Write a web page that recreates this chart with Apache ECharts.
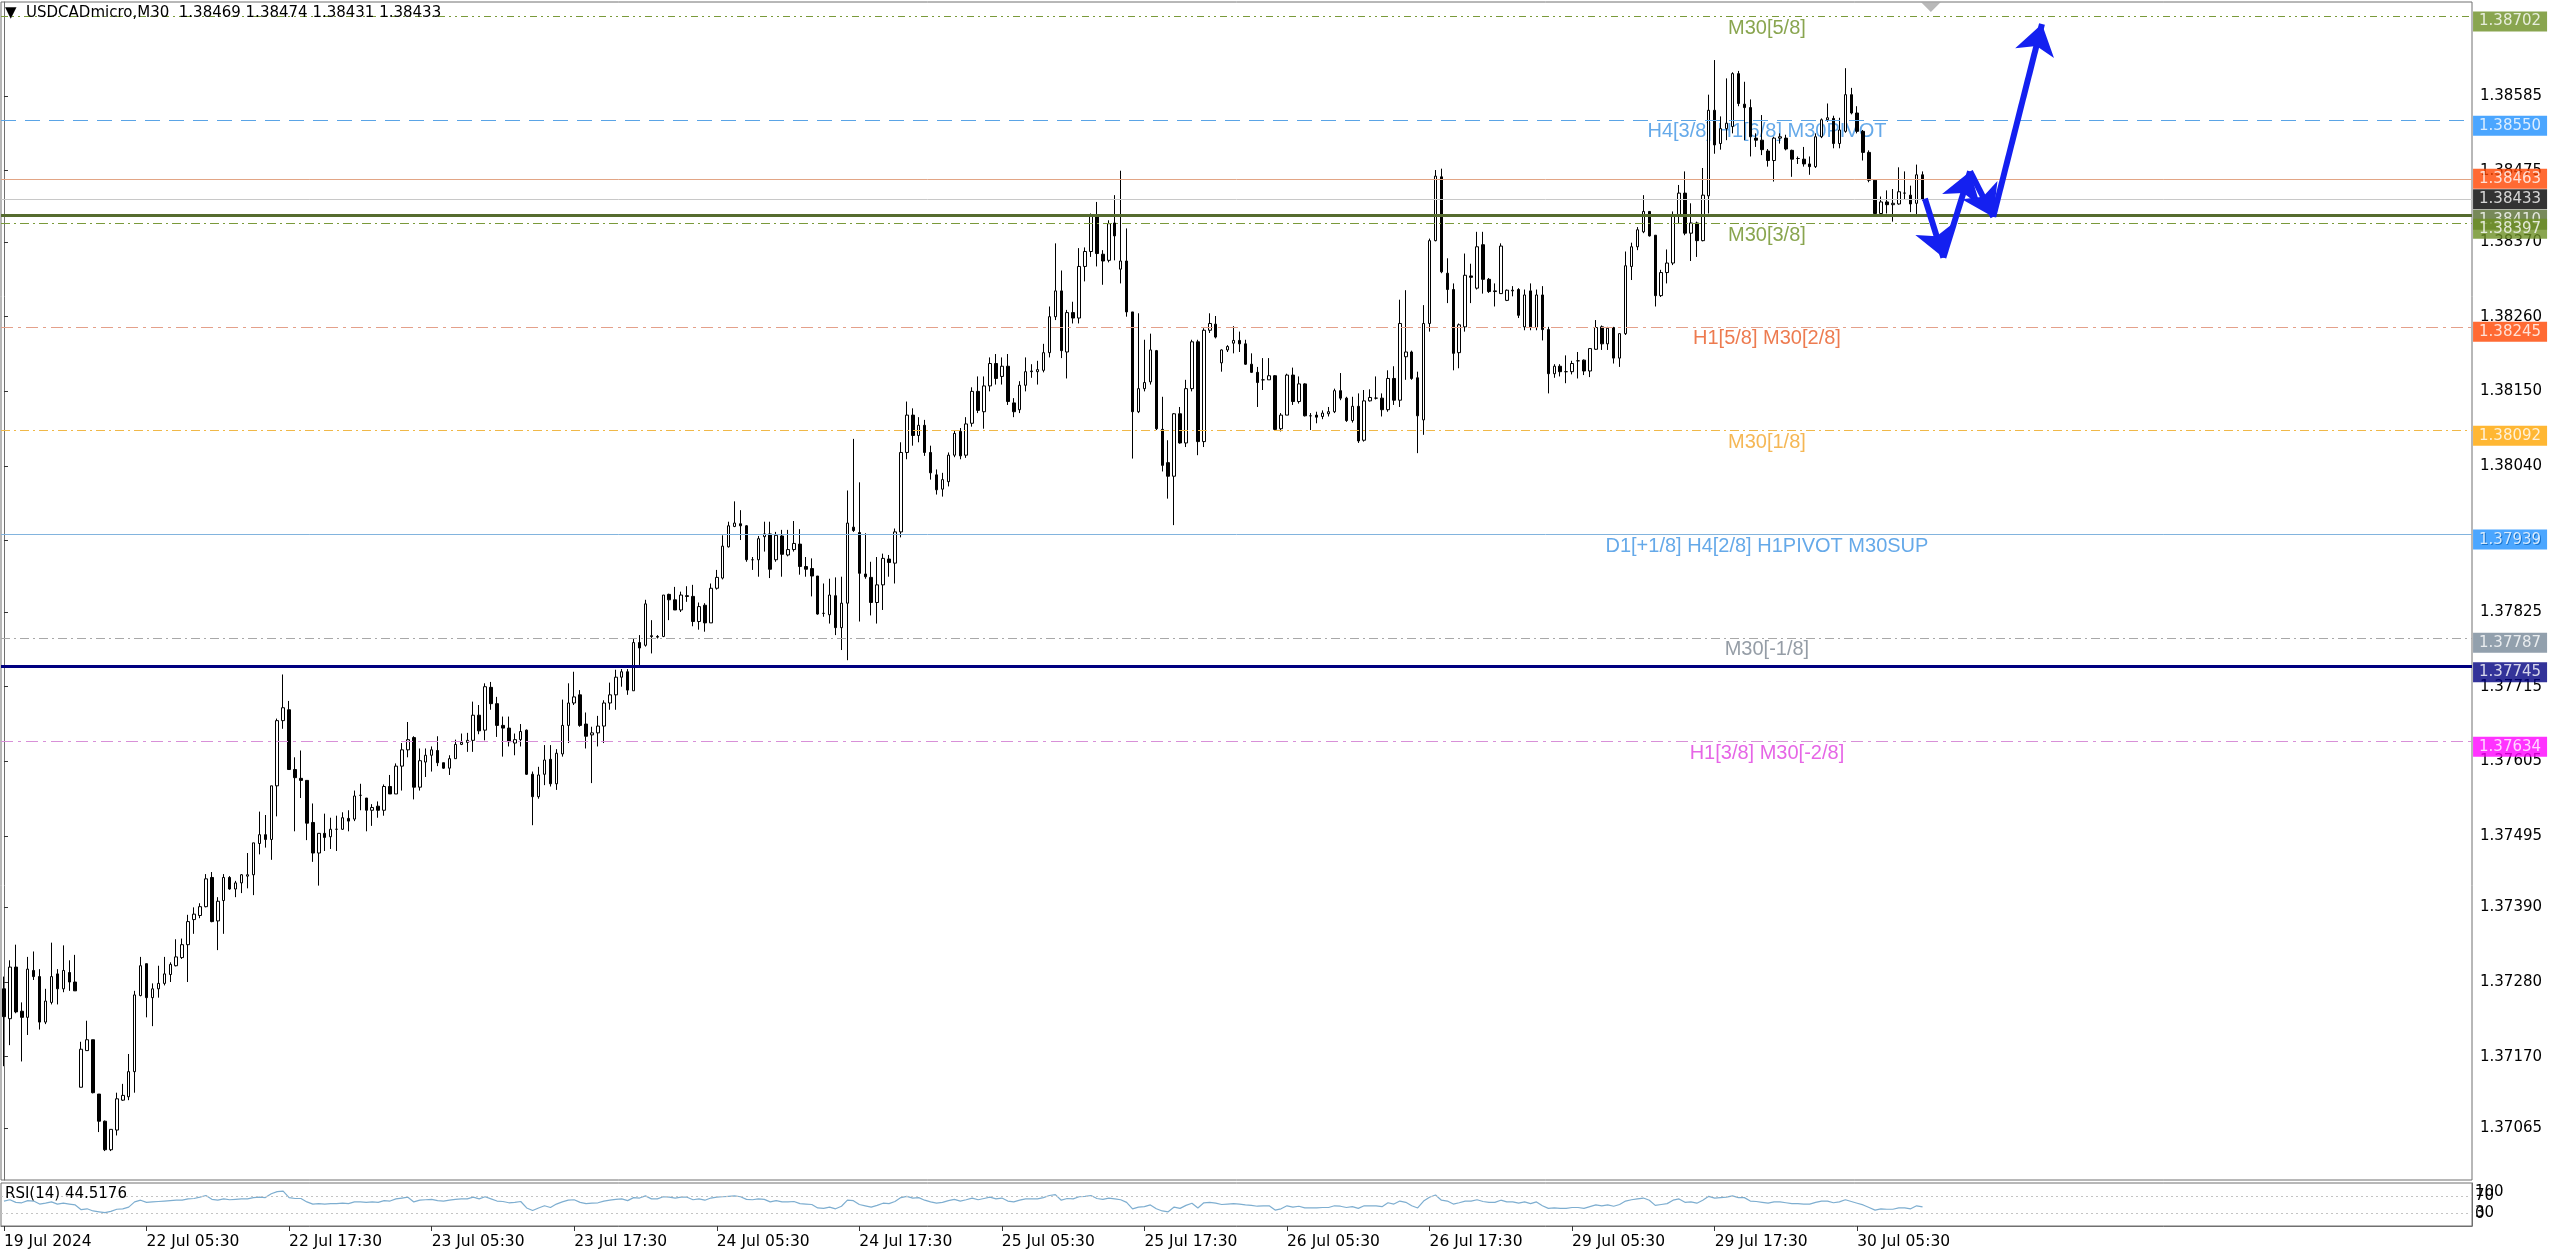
<!DOCTYPE html>
<html>
<head>
<meta charset="utf-8">
<script src="https://cdn.jsdelivr.net/npm/echarts@6/dist/echarts.min.js"></script>
<style>
html,body{margin:0;padding:0;background:#fff;}
#chart{width:2560px;height:1251px;}
</style>
</head>
<body>
<div id="chart"></div>
<script>
// ---------------- DATA ----------------
const symbolName = 'USDCADmicro,M30';

// trading sessions: [day label, first half-hour slot, end slot (exclusive)]
const sessions = [
  ['19 Jul', 35, 48], ['22 Jul', 0, 48], ['23 Jul', 0, 48], ['24 Jul', 0, 48],
  ['25 Jul', 0, 48], ['26 Jul', 0, 48], ['29 Jul', 0, 48], ['30 Jul', 0, 23]
];
const totalSlots = 416; // bars visible incl. right shift area

// candles: [open, high, low, close] in points (price x 1e5)
const candles = [
[137270,137288,137156,137229],[137226,137312,137187,137302],[137302,137335,137234,137236],[137237,137250,137163,137228],
[137228,137317,137202,137299],[137297,137325,137283,137288],[137288,137299,137210,137221],[137221,137270,137218,137252],
[137250,137338,137247,137288],[137292,137299,137247,137270],[137270,137334,137265,137297],[137294,137312,137267,137280],
[137280,137320,137267,137267],[137125,137192,137125,137181],[137179,137223,137179,137195],[137195,137195,137116,137117],
[137115,137115,137059,137075],[137075,137076,137031,137033],[137033,137063,137031,137063],[137062,137117,137054,137108],
[137106,137130,137105,137113],[137111,137174,137106,137148],[137148,137267,137117,137261],[137260,137317,137259,137304],
[137307,137307,137228,137257],[137257,137278,137215,137270],[137270,137304,137257,137278],[137278,137317,137275,137292],
[137291,137309,137280,137306],[137304,137343,137303,137317],[137316,137344,137314,137335],[137335,137379,137280,137369],
[137372,137390,137351,137380],[137378,137396,137374,137391],[137391,137439,137390,137432],[137434,137442,137368,137369],
[137370,137405,137327,137399],[137400,137439,137351,137434],[137434,137436,137416,137417],[137417,137429,137405,137426],
[137426,137439,137411,137438],[137436,137470,137418,137438],[137438,137485,137408,137485],[137484,137531,137468,137497],
[137497,137526,137478,137490],[137490,137569,137460,137569],[137569,137668,137524,137665],[137665,137733,137653,137684],
[137681,137694,137593,137593],[137593,137611,137502,137581],[137580,137621,137551,137577],[137577,137577,137489,137514],
[137515,137543,137457,137470],[137470,137499,137422,137499],[137499,137528,137473,137493],[137494,137522,137476,137505],
[137505,137525,137473,137505],[137505,137530,137504,137522],[137521,137533,137502,137517],[137520,137562,137517,137554],
[137555,137572,137533,137555],[137551,137551,137502,137533],[137533,137542,137510,137537],[137539,137546,137522,137533],
[137533,137571,137525,137568],[137568,137585,137557,137557],[137557,137602,137557,137598],[137598,137632,137562,137622],
[137622,137663,137611,137637],[137640,137642,137549,137567],[137567,137624,137562,137606],[137604,137624,137582,137614],
[137614,137627,137590,137622],[137621,137642,137598,137603],[137603,137603,137594,137595],[137595,137614,137585,137609],
[137609,137637,137609,137630],[137630,137646,137629,137633],[137633,137647,137619,137636],[137636,137693,137619,137673],
[137673,137688,137645,137650],[137651,137720,137636,137715],[137714,137722,137681,137690],[137690,137700,137641,137658],
[137658,137671,137612,137654],[137654,137671,137627,137634],[137632,137646,137614,137637],[137637,137660,137627,137649],
[137651,137652,137585,137586],[137586,137590,137511,137553],[137553,137597,137550,137585],[137586,137629,137570,137607],
[137608,137629,137568,137572],[137572,137623,137563,137617],[137616,137696,137612,137658],[137658,137720,137632,137691],
[137691,137737,137688,137700],[137703,137710,137656,137658],[137660,137677,137624,137642],[137644,137656,137573,137647],
[137647,137672,137627,137657],[137657,137695,137632,137691],[137691,137721,137681,137703],[137703,137740,137681,137729],
[137729,137741,137715,137737],[137737,137741,137703,137710],[137709,137786,137709,137780],[137780,137791,137747,137772],
[137776,137843,137774,137837],[137790,137813,137764,137789],[137788,137791,137786,137789],[137789,137850,137788,137850],
[137851,137852,137813,137843],[137843,137862,137828,137828],[137828,137855,137825,137850],[137849,137863,137840,137848],
[137848,137865,137804,137811],[137811,137839,137799,137833],[137835,137838,137796,137809],[137809,137867,137809,137860],
[137860,137887,137858,137876],[137875,137938,137873,137922],[137921,137958,137920,137952],[137951,137988,137950,137956],
[137955,137975,137931,137952],[137952,137953,137899,137902],[137902,137906,137887,137902],[137902,137937,137877,137933],
[137936,137958,137914,137940],[137940,137958,137875,137888],[137902,137943,137899,137938],[137937,137946,137877,137910],
[137909,137946,137907,137917],[137917,137959,137914,137926],[137925,137947,137880,137892],[137892,137906,137877,137888],
[137889,137904,137848,137878],[137878,137878,137821,137822],[137823,137867,137818,137823],[137821,137874,137808,137850],
[137849,137876,137791,137802],[137802,137877,137769,137838],[137838,138004,137754,137956],[137950,138080,137943,137945],
[137942,138016,137811,137882],[137881,137941,137874,137877],[137876,137899,137820,137839],[137839,137906,137808,137865],
[137865,137911,137828,137904],[137903,137909,137877,137898],[137897,137948,137867,137943],[137943,138075,137935,138060],
[138060,138135,138050,138115],[138115,138125,138070,138085],[138085,138112,138075,138100],[138100,138108,138055,138060],
[138060,138070,138020,138030],[138027,138035,137998,138005],[138006,138030,137995,138020],[138017,138060,138010,138056],
[138056,138092,138053,138088],[138091,138096,138050,138055],[138056,138112,138052,138102],[138103,138156,138098,138150],
[138150,138172,138118,138122],[138120,138172,138095,138158],[138158,138200,138150,138191],[138191,138205,138160,138169],
[138172,138200,138160,138187],[138187,138205,138130,138135],[138133,138140,138112,138120],[138123,138165,138118,138159],
[138159,138200,138150,138179],[138179,138190,138170,138180],[138179,138195,138160,138182],[138181,138220,138178,138207],
[138207,138275,138200,138260],[138260,138368,138255,138298],[138298,138328,138199,138210],[138208,138270,138169,138266],
[138266,138282,138250,138258],[138258,138361,138250,138334],[138334,138362,138312,138356],[138356,138412,138348,138408],
[138410,138429,138334,138353],[138352,138358,138307,138342],[138343,138402,138340,138397],[138398,138439,138343,138379],
[138330,138475,138309,138342],[138342,138390,138260,138267],[138267,138267,138051,138120],[138120,138265,138118,138154],
[138154,138226,138150,138163],[138164,138235,138160,138211],[138210,138211,138093,138095],[138094,138142,138032,138041],
[138045,138078,137992,138025],[138025,138118,137953,138117],[138117,138127,138073,138074],[138074,138167,138068,138154],
[138154,138226,138150,138223],[138223,138226,138056,138076],[138076,138243,138068,138240],[138240,138265,138236,138250],
[138249,138261,138228,138230],[138192,138212,138179,138211],[138211,138218,138208,138216],[138221,138246,138206,138225],
[138225,138238,138208,138220],[138220,138226,138189,138190],[138190,138206,138177,138178],[138178,138186,138127,138163],
[138167,138199,138152,138167],[138167,138199,138167,138173],[138173,138174,138093,138094],[138095,138118,138091,138115],
[138115,138176,138115,138174],[138174,138185,138130,138135],[138135,138172,138132,138161],[138161,138162,138113,138114],
[138114,138118,138093,138114],[138115,138120,138103,138112],[138113,138122,138109,138118],[138117,138127,138113,138120],
[138120,138154,138118,138151],[138151,138177,138137,138140],[138140,138142,138105,138107],[138107,138142,138104,138128],
[138128,138147,138074,138077],[138078,138152,138076,138136],[138136,138153,138135,138141],[138140,138172,138138,138140],
[138140,138147,138113,138123],[138123,138181,138120,138169],[138169,138187,138130,138137],[138137,138285,138127,138250],
[138201,138299,138167,138208],[138208,138210,138167,138169],[138170,138179,138059,138114],[138108,138277,138086,138250],
[138250,138375,138238,138372],[138372,138476,138371,138467],[138466,138478,138324,138326],[138324,138346,138280,138300],
[138300,138309,138181,138206],[138207,138250,138184,138248],[138245,138353,138238,138321],[138320,138338,138280,138318],
[138302,138385,138300,138363],[138366,138385,138294,138315],[138315,138317,138295,138297],[138297,138309,138275,138298],
[138294,138368,138294,138364],[138284,138300,138283,138299],[138298,138305,138290,138299],[138300,138302,138258,138262],
[138245,138300,138240,138292],[138298,138309,138240,138245],[138244,138300,138240,138292],[138292,138305,138225,138241],
[138241,138245,138147,138176],[138176,138190,138170,138187],[138187,138190,138172,138179],[138179,138203,138162,138179],
[138179,138195,138175,138191],[138195,138208,138169,138195],[138196,138197,138174,138180],[138180,138213,138171,138213],
[138212,138255,138211,138244],[138245,138247,138211,138220],[138220,138245,138211,138243],[138244,138245,138191,138199],
[138199,138235,138186,138235],[138235,138356,138233,138335],[138334,138369,138314,138363],[138363,138392,138358,138388],
[138385,138439,138383,138415],[138415,138415,138378,138379],[138380,138380,138275,138291],[138291,138329,138289,138325],
[138325,138359,138309,138339],[138339,138415,138336,138408],[138408,138454,138398,138442],[138442,138474,138380,138383],
[138383,138427,138342,138398],[138398,138400,138348,138372],[138372,138479,138371,138439],[138438,138587,138412,138564],
[138564,138638,138500,138513],[138515,138555,138506,138537],[138537,138611,138520,138545],[138540,138620,138530,138618],
[138618,138622,138570,138574],[138573,138606,138520,138568],[138568,138580,138496,138525],[138523,138530,138510,138520],
[138520,138557,138498,138506],[138504,138507,138481,138490],[138490,138525,138459,138523],[138523,138530,138515,138525],
[138523,138528,138505,138507],[138505,138506,138466,138492],[138493,138496,138485,138493],[138492,138510,138481,138485],
[138485,138496,138469,138481],[138481,138530,138479,138525],[138525,138552,138523,138550],[138550,138574,138547,138553],
[138552,138556,138508,138515],[138515,138553,138508,138535],[138533,138626,138531,138587],[138587,138597,138558,138560],
[138560,138570,138530,138533],[138533,138535,138490,138502],[138502,138505,138458,138461],[138461,138462,138410,138412],
[138412,138437,138407,138429],[138429,138446,138412,138425],[138425,138448,138400,138427],[138426,138480,138425,138444],
[138442,138474,138432,138442],[138439,138453,138414,138426],[138427,138484,138410,138469],[138469,138474,138431,138433]
];

// RSI(14) values read per bar
const rsi14 = [
58,61,55,54,59,58,51,53,56,51,53,51,
49,38,40,35,33,31,34,39,40,44,56,60,
55,56,57,58,59,60,60,63,64,67,71,62,
60,63,61,62,63,63,66,67,66,75,80,81,
66,64,64,56,51,52,51,52,52,53,52,56,
56,55,56,55,59,58,63,65,67,56,60,61,
62,59,58,60,62,63,63,67,63,68,63,58,
57,54,55,57,42,36,42,47,43,51,56,60,
61,55,52,53,54,58,60,62,63,59,66,65,
70,63,63,68,67,65,67,67,61,63,60,65,
67,68,69,70,68,62,61,63,62,56,59,56,
56,57,52,51,50,42,41,44,40,46,60,59,
50,47,44,48,53,52,57,66,69,65,66,60,
56,53,55,59,62,58,61,65,61,64,67,63,
65,58,56,60,63,63,63,66,71,73,60,64,
63,68,69,71,64,62,65,63,61,55,40,44,
45,49,40,35,33,44,41,48,53,42,54,55,
53,50,51,52,51,49,48,46,47,47,37,40,
47,44,46,42,42,42,43,43,47,46,43,45,
41,47,47,47,45,54,51,58,55,47,42,58,
67,72,60,58,51,54,58,58,61,57,55,55,
60,56,56,53,56,52,56,47,41,42,41,41,
43,43,41,45,49,47,49,46,50,58,61,63,
65,60,48,50,52,60,63,55,56,53,60,69,
65,66,67,70,66,66,58,57,55,53,56,56,
54,52,52,51,51,55,58,58,54,56,61,57,
53,49,43,37,40,39,39,42,42,40,47,44.5176
];

// price-scale tick labels
const yTickValues = [1.37065,1.37170,1.37280,1.37390,1.37495,1.37605,1.37715,1.37825,1.37930,1.38040,1.38150,1.38260,1.38370,1.38475,1.38585];
// RSI scale tick labels: bounds and levels
const rsiBounds = [0, 100];
const rsiLevels = [30, 70];
// time-scale tick labels
const xTickLabels = ['19 Jul 2024','22 Jul 05:30','22 Jul 17:30','23 Jul 05:30','23 Jul 17:30','24 Jul 05:30','24 Jul 17:30',
  '25 Jul 05:30','25 Jul 17:30','26 Jul 05:30','26 Jul 17:30','29 Jul 05:30','29 Jul 17:30','30 Jul 05:30'];

// horizontal levels (price lines with price tags)
const levelPrices = [1.38702,1.38550,1.38463,1.38433,1.38410,1.38397,1.38245,1.38092,1.37939,1.37787,1.37745,1.37634];
// level captions: [price, caption]
const levelCaptions = [
  [1.38702,'M30[5/8]'],[1.38550,'H4[3/8] H1[6/8] M30PIVOT'],[1.38397,'M30[3/8]'],[1.38245,'H1[5/8] M30[2/8]'],
  [1.38092,'M30[1/8]'],[1.37939,'D1[+1/8] H4[2/8] H1PIVOT M30SUP'],[1.37787,'M30[-1/8]'],[1.37634,'H1[3/8] M30[-2/8]']
];
// forecast zig-zag path: [bar position, price]
const forecastPath = [[323.4,1.38434],[326.5,1.38347],[331.0,1.38474],[334.9,1.38407],[343.1,1.38691]];

// ---------------- STYLES ----------------
const DD = [9,4,2,4];
const levelLineStyles = [
  {color:'#7a9a3a',type:[7,4,2,4,2,4],width:1},
  {color:'#5aa4e6',type:[15,9],width:1},
  {color:'#e2a585',type:'solid',width:1},
  {color:'#c8c8c8',type:'solid',width:1},
  {color:'#556b2f',type:'solid',width:3},
  {color:'#7a9a3a',type:DD,width:1},
  {color:'#e4a08a',type:[12,5,3,5],width:1},
  {color:'#f0b848',type:DD,width:1},
  {color:'#82b4de',type:'solid',width:1},
  {color:'#a8a8a8',type:DD,width:1},
  {color:'#000080',type:'solid',width:3},
  {color:'#d890d8',type:[12,5,3,5],width:1}
];
const tagColors = ['#6b8e23','#1e90ff','#ff4500','#000000','#556b2f','#6b8e23','#ff4500','#ffa500','#1e90ff','#778899','#000080','#ff00ff'];
const tagOffsets = [5,6,0,0,5,5,5,5,5,5,6,5];
const captionColors = {
  'M30[5/8]':'#6b8e23','H4[3/8] H1[6/8] M30PIVOT':'#3f94e4','M30[3/8]':'#6b8e23','H1[5/8] M30[2/8]':'#e85a24',
  'M30[1/8]':'#f2a52a','D1[+1/8] H4[2/8] H1PIVOT M30SUP':'#3f94e4','M30[-1/8]':'#7a8590','H1[3/8] M30[-2/8]':'#e03ee0'
};
const captionX = 296.8;
const FONT = 'DejaVu Sans';

// ---------------- BUILD ----------------
const pad = n => (n < 10 ? '0' : '') + n;
const categories = [];
sessions.forEach(([d, s, e]) => {
  for (let h = s; h < e; h++) categories.push(d + ' ' + pad(Math.floor(h / 2)) + ':' + (h % 2 ? '30' : '00'));
});
const nBars = categories.length;
while (categories.length < totalSlots) categories.push('');

const P = v => v / 1e5;
const candleData = candles.map(([o, h, l, c]) => [P(o), P(c), P(l), P(h)]);
const last = candles[candles.length - 1];
const header = '\u25BC  ' + symbolName + '  ' + [last[0], last[1], last[2], last[3]].map(v => P(v).toFixed(5)).join(' ');
const rsiText = 'RSI(14) ' + rsi14[rsi14.length - 1];

const labelIdx = new Set();
categories.forEach((c, i) => { if (i === 0 || (c && xTickLabels.includes(c))) labelIdx.add(i); });
const showTick = (i) => labelIdx.has(i);

const yMin = 1.369884, yMax = 1.387235;
const rsiAxisBase = {type: 'value', gridIndex: 1, position: 'right', min: 0, max: 100, splitLine: {show: false},
  axisTick: {show: false}};

const chart = echarts.init(document.getElementById('chart'), null, {renderer: 'canvas'});
const option = {
  animation: false,
  backgroundColor: '#ffffff',
  title: [
    {text: header, left: 5, top: 6, padding: 0, textStyle: {fontFamily: FONT, fontSize: 15, fontWeight: 'normal', color: '#000'}},
    {text: rsiText, left: 5, top: 1187, padding: 0, textStyle: {fontFamily: FONT, fontSize: 15, fontWeight: 'normal', color: '#000'}}
  ],
  grid: [
    {left: 1, top: 2, width: 2471, height: 1178, show: true, borderColor: '#707070', borderWidth: 1, backgroundColor: '#fff'},
    {left: 1, top: 1183, width: 2471, height: 43, show: true, borderColor: '#707070', borderWidth: 1, backgroundColor: '#fff'}
  ],
  xAxis: [
    {type: 'category', gridIndex: 0, data: categories, boundaryGap: true, show: false},
    {type: 'value', gridIndex: 0, min: -0.5, max: totalSlots - 0.5, show: false},
    {type: 'category', gridIndex: 1, data: categories, boundaryGap: true, position: 'bottom',
      axisLine: {show: true, lineStyle: {color: '#707070'}},
      axisTick: {show: true, alignWithLabel: true, interval: showTick, length: 5, lineStyle: {color: '#333'}},
      axisLabel: {show: true, interval: showTick, align: 'left', margin: 8, color: '#000', fontFamily: FONT, fontSize: 15.5,
        formatter: (v, i) => (i === 0 ? xTickLabels[0] : v)},
      splitLine: {show: false}}
  ],
  yAxis: [
    {type: 'value', gridIndex: 0, position: 'right', min: yMin, max: yMax, splitLine: {show: false},
      axisLine: {show: true, lineStyle: {color: '#707070'}},
      axisTick: {show: true, customValues: yTickValues, length: 4, lineStyle: {color: '#333'}},
      axisLabel: {show: true, customValues: yTickValues, margin: 8, color: '#000', fontFamily: FONT, fontSize: 15,
        formatter: v => v.toFixed(5)}},
    Object.assign({}, rsiAxisBase, {
      axisLine: {show: true, lineStyle: {color: '#707070'}},
      axisLabel: {show: true, customValues: rsiBounds, showMinLabel: true, showMaxLabel: true, hideOverlap: false,
        margin: 3, color: '#000', fontFamily: FONT, fontSize: 15,
        formatter: v => (v === 100 ? '{t|100}' : '{b|0}'),
        rich: {
          t: {fontFamily: FONT, fontSize: 15, color: '#000', padding: [19, 0, 0, 0]},
          b: {fontFamily: FONT, fontSize: 15, color: '#000', padding: [0, 0, 24, 0]}
        }}}),
    Object.assign({}, rsiAxisBase, {
      axisLine: {show: false},
      axisLabel: {show: true, customValues: rsiLevels, showMinLabel: true, showMaxLabel: true, hideOverlap: false,
        margin: 3, color: '#000', fontFamily: FONT, fontSize: 15, formatter: v => String(v)}})
  ],
  series: [
    { // level lines + captions (behind candles)
      type: 'scatter', xAxisIndex: 1, yAxisIndex: 0, z: 1, silent: true,
      symbolSize: 0.1, itemStyle: {color: 'rgba(0,0,0,0)'},
      data: levelCaptions.map(([p, t]) => ({value: [captionX, p], name: t,
        label: {color: captionColors[t]}})),
      label: {show: true, position: 'bottom', distance: 2, fontFamily: 'Liberation Sans, Arial', fontSize: 20,
        formatter: p => p.name},
      markLine: {silent: true, precision: 5, symbol: ['none', 'none'], label: {show: false}, animation: false,
        data: levelPrices.map((p, i) => ({yAxis: p, lineStyle: levelLineStyles[i]}))}
    },
    {
      type: 'candlestick', xAxisIndex: 0, yAxisIndex: 0, z: 3, large: false, barWidth: 3,
      data: candleData,
      itemStyle: {color: '#ffffff', color0: '#000000', borderColor: '#000000', borderColor0: '#000000', borderWidth: 1}
    },
    { // price tags on the price scale
      type: 'scatter', xAxisIndex: 1, yAxisIndex: 0, z: 6, silent: true, clip: false,
      symbolSize: 0.1, itemStyle: {color: 'rgba(0,0,0,0)'},
      data: levelPrices.map((p, i) => ({value: [totalSlots - 0.5, p],
        label: {backgroundColor: tagColors[i], offset: [0, tagOffsets[i]]}})),
      label: {show: true, position: 'right', distance: 1, color: '#fff', fontFamily: FONT, fontSize: 15,
        padding: [2, 6, 1, 6], lineHeight: 17, formatter: p => p.value[1].toFixed(5)}
    },
    { // forecast arrows
      type: 'lines', coordinateSystem: 'cartesian2d', xAxisIndex: 1, yAxisIndex: 0, z: 8, silent: true,
      data: forecastPath.slice(1).map((pt, i) => ({coords: [forecastPath[i], pt]})),
      lineStyle: {color: '#1420f0', width: 6, opacity: 1, curveness: 0},
      symbol: ['none', 'arrow'], symbolSize: 30
    },
    { // chart shift marker
      type: 'scatter', xAxisIndex: 1, yAxisIndex: 0, z: 7, silent: true, clip: false,
      symbol: 'triangle', symbolRotate: 180, symbolSize: [20, 10], itemStyle: {color: '#a8a8a8'},
      data: [[nBars + 0.4, yMax - 5 / 67895]]
    },
    {
      type: 'line', xAxisIndex: 2, yAxisIndex: 1, z: 3, silent: true, showSymbol: false, symbol: 'none',
      data: rsi14, lineStyle: {color: '#7eaed0', width: 1.2},
      markLine: {silent: true, symbol: ['none', 'none'], label: {show: false},
        lineStyle: {color: '#c4c4c4', type: [2, 3], width: 1}, data: [{yAxis: 70}, {yAxis: 30}]}
    }
  ]
};
chart.setOption(option);
</script>
</body>
</html>
